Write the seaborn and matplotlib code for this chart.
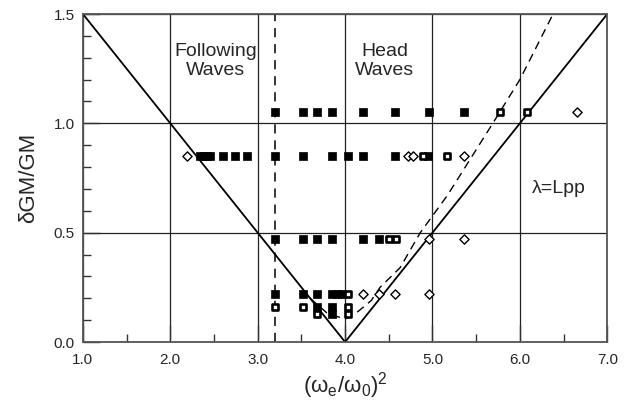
import matplotlib
matplotlib.use("Agg")
import matplotlib.pyplot as plt
import seaborn as sns
from matplotlib.ticker import MultipleLocator, FormatStrFormatter

# ---- data ----
filled_x = [3.20, 3.52, 3.68, 3.85, 4.21, 4.57, 4.96, 5.36,
            2.34, 2.38, 2.42, 2.46, 2.60, 2.74, 2.88, 3.20, 3.52, 3.85, 4.03, 4.21, 4.57, 4.95,
            3.20, 3.52, 3.68, 3.85, 4.21, 4.39,
            3.20, 3.52, 3.68, 3.85, 3.91, 3.97,
            3.68, 3.85,
            3.85]
filled_y = [1.05] * 8 + [0.85] * 14 + [0.47] * 6 + [0.22] * 6 + [0.16] * 2 + [0.13]

open_sq_x = [5.77, 6.08, 4.89, 5.17, 4.50, 4.58, 4.03, 3.20, 3.52, 4.03, 3.68, 4.03]
open_sq_y = [1.05, 1.05, 0.85, 0.85, 0.47, 0.47, 0.22, 0.16, 0.16, 0.16, 0.13, 0.13]

diamond_x = [6.65, 2.19, 4.72, 4.78, 5.36, 4.96, 5.36, 4.21, 4.39, 4.57, 4.96]
diamond_y = [1.05, 0.85, 0.85, 0.85, 0.85, 0.47, 0.47, 0.22, 0.22, 0.22, 0.22]

v_x = [1.0, 4.0, 7.0]
v_y = [1.5, 0.0, 1.5]

dash_x = [3.60, 3.80, 4.00, 4.15, 4.30, 4.40, 4.63, 4.86, 5.17, 5.69, 6.00, 6.38]
dash_y = [0.20, 0.13, 0.105, 0.14, 0.19, 0.25, 0.34, 0.50, 0.67, 1.00, 1.20, 1.50]

vline_x = [3.2, 3.2]
vline_y = [0.0, 1.5]

x_ticks = [1.0, 2.0, 3.0, 4.0, 5.0, 6.0, 7.0]
y_ticks = [0.0, 0.5, 1.0, 1.5]

# ---- style ----
sns.set_style("white")
plt.rcParams['font.family'] = ['Liberation Sans', 'DejaVu Sans']
plt.rcParams['mathtext.fontset'] = 'custom'
plt.rcParams['mathtext.rm'] = 'Liberation Sans'
plt.rcParams['mathtext.it'] = 'Liberation Sans'

fig = plt.figure(figsize=(6.28, 4.00), dpi=100)
ax = fig.add_axes([0.132, 0.145, 0.835, 0.82])

ax.set_xlim(1.0, 7.0)
ax.set_ylim(0.0, 1.5)
ax.set_xticks(x_ticks)
ax.set_yticks(y_ticks)
ax.xaxis.set_major_formatter(FormatStrFormatter('%.1f'))
ax.yaxis.set_major_formatter(FormatStrFormatter('%.1f'))
ax.xaxis.set_minor_locator(MultipleLocator(0.5))
ax.yaxis.set_minor_locator(MultipleLocator(0.1))
ax.grid(True, which='major', color='#222222', lw=0.9, zorder=0)
ax.set_axisbelow(True)
ax.tick_params(which='major', direction='in', length=12, width=1, color='#333333',
               labelsize=11)
ax.tick_params(axis='x', which='major', pad=8)
ax.tick_params(axis='y', which='major', pad=6)
ax.tick_params(which='minor', direction='in', length=6, width=1, color='#333333')
ax.tick_params(axis='x', which='both', bottom=True, top=False)
ax.tick_params(axis='y', which='both', left=True, right=False)
for s in ax.spines.values():
    s.set_color('#555555')
    s.set_linewidth(1.3)

# lines
sns.lineplot(x=v_x, y=v_y, sort=False, estimator=None, color='black', lw=1.3, ax=ax)
sns.lineplot(x=dash_x, y=dash_y, sort=False, estimator=None, color='black', lw=1.0,
             ax=ax).lines[-1].set_dashes([6, 4])
sns.lineplot(x=vline_x, y=vline_y, sort=False, estimator=None, color='black', lw=1.1,
             ax=ax).lines[-1].set_dashes([6, 4.5])

# markers
sns.scatterplot(x=filled_x, y=filled_y, marker='s', s=26, color='black',
                edgecolor='black', linewidth=0.5, ax=ax, zorder=5)
sns.scatterplot(x=open_sq_x, y=open_sq_y, marker='s', s=13, facecolor='white',
                edgecolor='black', linewidth=1.9, ax=ax, zorder=6)
sns.scatterplot(x=diamond_x, y=diamond_y, marker='D', s=22, facecolor='white',
                edgecolor='black', linewidth=1.0, ax=ax, zorder=6)

# texts
ax.text(2.52, 1.285, "Following\nWaves", ha='center', va='center', fontsize=14,
        linespacing=1.15)
ax.text(4.45, 1.285, "Head\nWaves", ha='center', va='center', fontsize=14,
        linespacing=1.15)
ax.text(6.45, 0.70, "λ=Lpp", ha='center', va='center', fontsize=14)

ax.set_xlabel(r'$(\mathrm{ω_e}/\mathrm{ω_0})^2$', fontsize=16, labelpad=2)
ax.set_ylabel("δGM/GM", fontsize=16, labelpad=10)

fig.savefig("out.png", dpi=100)
